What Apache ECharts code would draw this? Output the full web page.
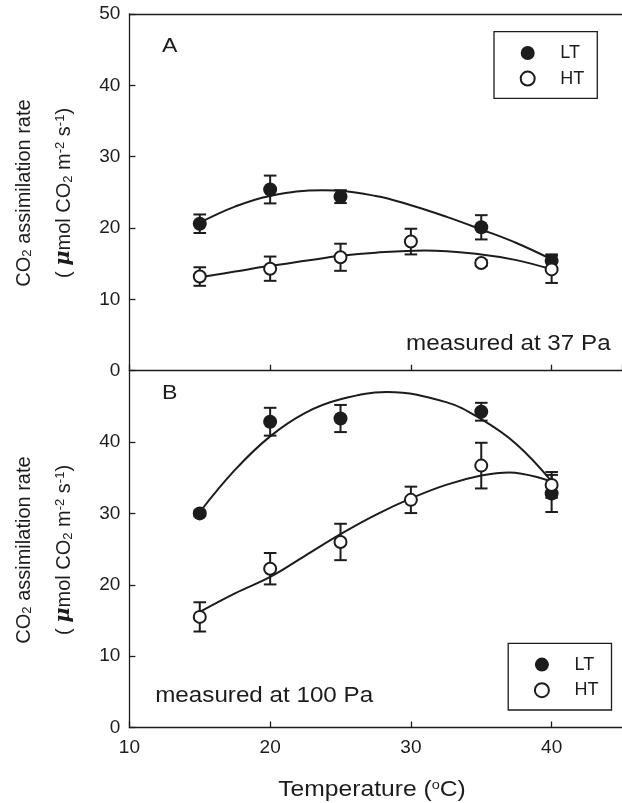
<!DOCTYPE html>
<html>
<head>
<meta charset="utf-8">
<script src="https://cdn.jsdelivr.net/npm/echarts@6/dist/echarts.min.js"></script>
<style>
  html, body { margin: 0; padding: 0; background: #fff; }
  #chart { width: 622px; height: 803px; }
</style>
</head>
<body>
<div id="chart"></div>
<script>
// Leaf temperatures (°C) at which assimilation was measured
const temps = [15, 20, 25, 30, 35, 40];

// Panel A: measured at 37 Pa CO2 (means and standard errors)
const ltA = [20.6, 25.4, 24.4, null, 20.1, 15.4];
const ltAErr = [1.3, 1.95, 0.9, null, 1.7, 0.9];
const htA = [13.2, 14.3, 15.9, 18.1, 15.1, 14.2];
const htAErr = [1.3, 1.7, 1.9, 1.8, 0.4, 1.9];

// Panel B: measured at 100 Pa CO2
const ltB = [30.0, 42.85, 43.3, null, 44.25, 32.8];
const ltBErr = [0.4, 1.95, 1.9, null, 1.25, 2.6];
const htB = [15.5, 22.25, 26.0, 31.9, 36.7, 34.0];
const htBErr = [2.05, 2.2, 2.55, 1.85, 3.2, 1.8];

// Fitted response curves: temperatures and fitted rates (each includes its optimum)
const ltFitATemp = [15, 17.5, 20, 23.75, 27.5, 30, 32.5, 35, 37.5, 40];
const ltFitA = [20.75, 23.0, 24.5, 25.3, 24.5, 23.2, 21.6, 19.8, 17.9, 15.6];
const htFitATemp = [15, 17.5, 20, 22.5, 25, 27.5, 31, 35, 37.5, 40];
const htFitA = [13.1, 13.9, 14.7, 15.4, 16.1, 16.55, 16.85, 16.3, 15.5, 14.2];
const ltFitBTemp = [15, 17.5, 20, 22.5, 25, 28.3, 32.5, 35, 37.5, 40];
const ltFitB = [30.2, 36.1, 40.8, 44.1, 46.0, 47.0, 45.6, 43.2, 39.7, 34.5];
const htFitBTemp = [15, 17.5, 20, 22.5, 25, 27.5, 30, 32.5, 35, 37, 40];
const htFitB = [16.2, 18.8, 21.1, 24.1, 27.1, 29.8, 32.1, 34.0, 35.3, 35.75, 34.45];

// Axis ticks
const xTicks = [10, 20, 30, 40];
const yTicks = [0, 10, 20, 30, 40, 50];

const FONT = '"Liberation Sans", Arial, Helvetica, sans-serif';
const INK = '#1c1c1c';

const points = (vals) => temps.map((t, i) => vals[i] == null ? null : [t, vals[i]]).filter(Boolean);
const bars = (vals, errs) => temps.map((t, i) => vals[i] == null ? null : [t, vals[i] - errs[i], vals[i] + errs[i]]).filter(Boolean);
const curve = (ts, vals) => ts.map((t, i) => [t, vals[i]]);

function errorBar(params, api) {
  const x = api.value(0);
  const top = api.coord([x, api.value(2)]);
  const bot = api.coord([x, api.value(1)]);
  const w = 6.3;
  const style = { stroke: INK, lineWidth: 2 };
  return {
    type: 'group',
    children: [
      { type: 'line', shape: { x1: top[0], y1: top[1], x2: bot[0], y2: bot[1] }, style },
      { type: 'line', shape: { x1: top[0] - w, y1: top[1], x2: top[0] + w, y2: top[1] }, style },
      { type: 'line', shape: { x1: bot[0] - w, y1: bot[1], x2: bot[0] + w, y2: bot[1] }, style }
    ]
  };
}

const filled = { color: INK, borderWidth: 0, opacity: 1 };
const open = { color: '#fff', borderColor: INK, borderWidth: 2, opacity: 1 };

function panelSeries(xi, yi, lt, ltErr, ht, htErr, ltFit, htFit) {
  return [
    { type: 'custom', name: 'LT error', xAxisIndex: xi, yAxisIndex: yi, renderItem: errorBar, data: bars(lt, ltErr), z: 2 },
    { type: 'custom', name: 'HT error', xAxisIndex: xi, yAxisIndex: yi, renderItem: errorBar, data: bars(ht, htErr), z: 2 },
    { type: 'line', name: 'LT fit', xAxisIndex: xi, yAxisIndex: yi, data: ltFit, smooth: 0.4,
      showSymbol: false, lineStyle: { color: INK, width: 2 }, z: 2 },
    { type: 'line', name: 'HT fit', xAxisIndex: xi, yAxisIndex: yi, data: htFit, smooth: 0.4,
      showSymbol: false, lineStyle: { color: INK, width: 2 }, z: 2 },
    { type: 'scatter', name: 'LT', xAxisIndex: xi, yAxisIndex: yi, data: points(lt), symbol: 'circle',
      symbolSize: 14, itemStyle: filled, z: 5 },
    { type: 'scatter', name: 'HT', xAxisIndex: xi, yAxisIndex: yi, data: points(ht), symbol: 'circle',
      symbolSize: 12, itemStyle: open, z: 6 }
  ];
}

const axisLine = { show: true, lineStyle: { color: INK, width: 1.3 } };
const tickIn = { show: true, inside: true, length: 6, lineStyle: { color: INK, width: 1.3 } };
const labelStyle = { color: INK, fontFamily: FONT, fontSize: 19 };

const xBase = {
  type: 'value', min: xTicks[0], max: 45, interval: 10,
  axisLine, axisTick: tickIn, splitLine: { show: false }
};
const yBase = {
  type: 'value', min: yTicks[0], max: yTicks[yTicks.length - 1], interval: 10,
  axisLine, axisTick: tickIn, splitLine: { show: false }
};

const legendBase = {
  orient: 'vertical',
  data: ['LT', 'HT'],
  icon: 'circle',
  itemWidth: 14,
  itemHeight: 14,
  itemGap: 7.6,
  padding: [12.3, 13, 10.8, 25.7],
  borderColor: INK,
  borderWidth: 1.3,
  borderRadius: 0,
  selectedMode: false,
  textStyle: { color: INK, fontFamily: FONT, fontSize: 18, padding: [0, 0, 0, 20.6] }
};

const supRich = {
  sub: { fontFamily: FONT, fontSize: 13, verticalAlign: 'bottom', lineHeight: 13, fill: INK },
  sup: { fontFamily: FONT, fontSize: 13, verticalAlign: 'top', lineHeight: 13, fill: INK },
  mu: { fontFamily: '"DejaVu Serif", "Liberation Serif", serif', fontSize: 21, fontWeight: 'bold', fontStyle: 'italic', fill: INK }
};

function yTitle(cy) {
  return [
    { type: 'text', x: 24, y: cy, rotation: Math.PI / 2,
      style: { text: 'CO{sub|2} assimilation rate', fontFamily: FONT, fontSize: 20, fill: INK,
        align: 'center', verticalAlign: 'middle', rich: supRich } },
    { type: 'text', x: 64, y: cy, rotation: Math.PI / 2,
      style: { text: '( {mu|μ}mol CO{sub|2} m{sup|-2} s{sup|-1})', fontFamily: FONT, fontSize: 20, fill: INK,
        align: 'center', verticalAlign: 'middle', rich: supRich } }
  ];
}

function note(text, x, y, align, size) {
  return { type: 'text', x, y, scaleX: 1.1,
    style: { text, fontFamily: FONT, fontSize: size, fill: INK, align, verticalAlign: 'middle', rich: supRich } };
}

const chart = echarts.init(document.getElementById('chart'), null, { renderer: 'canvas' });
chart.setOption({
  animation: false,
  backgroundColor: '#fff',
  grid: [
    { left: 129.4, top: 14, width: 494.6, height: 356.7, containLabel: false },
    { left: 129.4, top: 370.7, width: 494.6, height: 356.8, containLabel: false }
  ],
  xAxis: [
    Object.assign({}, xBase, { gridIndex: 0, position: 'bottom', axisLabel: { show: false } }),
    Object.assign({}, xBase, { gridIndex: 0, position: 'top', axisTick: { show: false }, axisLabel: { show: false } }),
    Object.assign({}, xBase, { gridIndex: 1, position: 'bottom',
      axisLabel: Object.assign({ margin: 11, showMaxLabel: false,
        formatter: (v) => (xTicks.indexOf(v) >= 0 ? String(v) : '') }, labelStyle) })
  ],
  yAxis: [
    Object.assign({}, yBase, { gridIndex: 0, axisLabel: Object.assign({ margin: 9 }, labelStyle) }),
    Object.assign({}, yBase, { gridIndex: 1, axisLabel: Object.assign({ margin: 9, showMaxLabel: false }, labelStyle) })
  ],
  legend: [
    Object.assign({}, legendBase, { left: 494, top: 31.7 }),
    Object.assign({}, legendBase, { left: 508.2, top: 643.3 })
  ],
  series: [].concat(
    panelSeries(0, 0, ltA, ltAErr, htA, htAErr, curve(ltFitATemp, ltFitA), curve(htFitATemp, htFitA)),
    panelSeries(2, 1, ltB, ltBErr, htB, htBErr, curve(ltFitBTemp, ltFitB), curve(htFitBTemp, htFitB))
  ),
  graphic: [].concat(
    yTitle(193),
    yTitle(550),
    [
      note('A', 162, 46.7, 'left', 21),
      note('B', 162, 393.3, 'left', 21),
      note('measured at 37 Pa', 610.6, 344, 'right', 22),
      note('measured at 100 Pa', 155.2, 696, 'left', 22),
      { type: 'text', x: 372, y: 790, scaleX: 1.12,
        style: { text: 'Temperature ({sup|o}C)', fontFamily: FONT, fontSize: 22, fill: INK,
          align: 'center', verticalAlign: 'middle', rich: supRich } }
    ]
  )
});
</script>
</body>
</html>
